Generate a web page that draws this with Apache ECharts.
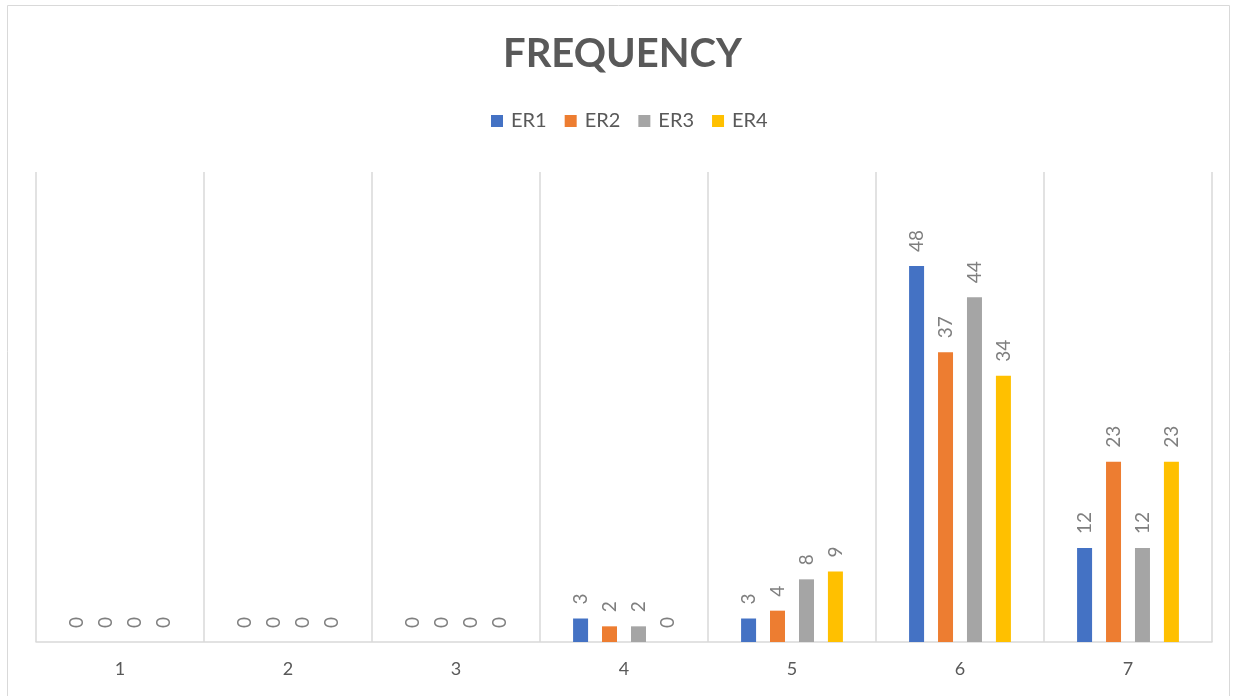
<!DOCTYPE html>
<html><head><meta charset="utf-8">
<script src="https://cdn.jsdelivr.net/npm/echarts@6/dist/echarts.min.js"></script>
<style>html,body{margin:0;padding:0;background:#fff}#c{width:1236px;height:696px}</style>
</head><body><div id="c"></div>
<script>
const categories = ['1','2','3','4','5','6','7'];
const seriesNames = ['ER1','ER2','ER3','ER4'];
const er1 = [0,0,0,3,3,48,12];
const er2 = [0,0,0,2,4,37,23];
const er3 = [0,0,0,2,8,44,12];
const er4 = [0,0,0,0,9,34,23];
const colors = ['#4472C4','#ED7D31','#A5A5A5','#FFC000'];
const values = [er1, er2, er3, er4];
const FONT = 'Lato, "Open Sans", sans-serif';
const chart = echarts.init(document.getElementById('c'), null, {renderer:'canvas'});
chart.setOption({
  animation:false,
  graphic:[{type:'rect', shape:{x:7.5,y:5.5,width:1222,height:700}, style:{fill:'none', stroke:'#d9d9d9', lineWidth:1}, silent:true}],
  title:{text:'FREQUENCY', left:498, top:29, textStyle:{fontFamily:FONT, fontSize:40, fontWeight:'bold', color:'#595959'}},
  legend:{top:106, left:486, itemWidth:12, itemHeight:12, itemGap:18, icon:'rect',
    textStyle:{fontFamily:FONT, fontSize:20, color:'#595959', padding:[0,0,0,3]}, data:seriesNames},
  grid:{left:36, right:24, top:172, bottom:54, containLabel:false},
  xAxis:{type:'category', data:categories, boundaryGap:true,
    axisLine:{show:true, lineStyle:{color:'#d9d9d9', width:1.5}},
    axisTick:{show:false},
    axisLabel:{fontFamily:FONT, fontSize:18, color:'#595959', margin:18},
    splitLine:{show:true, lineStyle:{color:'#d9d9d9', width:1.5}}},
  yAxis:{type:'value', min:0, max:60, interval:10, show:false, splitLine:{show:false}},
  series: seriesNames.map((n,i)=>({
    name:n, type:'bar', data:values[i], barWidth:15, barGap:'93%',
    itemStyle:{color:colors[i]},
    label:{show:true, position:'top', rotate:90, align:'left', verticalAlign:'middle', distance:14,
      fontFamily:FONT, fontSize:19, color:'#7f7f7f'}
  }))
});
</script></body></html>
